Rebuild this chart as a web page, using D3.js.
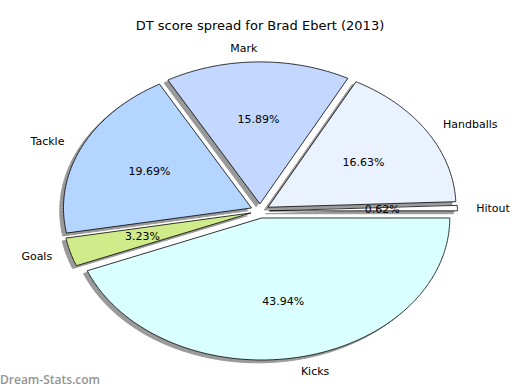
<!DOCTYPE html>
<html>
<head>
<meta charset="utf-8">
<script src="https://cdn.jsdelivr.net/npm/d3@7"></script>
<style>
body { margin: 0; background: #fff; }
text { font-family: "DejaVu Sans", sans-serif; }
</style>
</head>
<body>
<div id="chart"></div>
<script>
// pie data, matplotlib order (counter-clockwise from 3 o'clock)
var categories = ["Hitout", "Handballs", "Mark", "Tackle", "Goals", "Kicks"];
var percents = [0.62, 16.63, 15.89, 19.69, 3.23, 43.94];
var colours = ["#ffffff", "#eaf1ff", "#c4d8ff", "#b3d5ff", "#cfeb8a", "#d9ffff"];

var svgWidth = 520, svgHeight = 390;
var cx = 260, cy = 211, rx = 188, ry = 142;
var explode = 0.05;

var svg = d3.select("#chart").append("svg")
    .attr("width", svgWidth).attr("height", svgHeight);

// unit circle -> ellipse on screen
var x = d3.scaleLinear().domain([-1, 1]).range([cx - rx, cx + rx]);
var y = d3.scaleLinear().domain([-1, 1]).range([cy + ry, cy - ry]);

var total = d3.sum(percents);
var slices = [];
var start = 0;
for (var i = 0; i < percents.length; i++) {
    var a1 = start, a2 = start + 2 * Math.PI * percents[i] / total;
    var mid = (a1 + a2) / 2;
    slices.push({name: categories[i], value: percents[i], colour: colours[i],
        a1: a1, a2: a2, mid: mid,
        ox: explode * Math.cos(mid), oy: explode * Math.sin(mid)});
    start = a2;
}

var line = d3.line().x(function(d) { return x(d[0]); }).y(function(d) { return y(d[1]); });

function wedgePoints(s, dx, dy) {
    var pts = [[s.ox + dx, s.oy + dy]];
    var n = Math.max(2, Math.ceil((s.a2 - s.a1) / 0.01));
    for (var k = 0; k <= n; k++) {
        var t = s.a1 + (s.a2 - s.a1) * k / n;
        pts.push([s.ox + dx + Math.cos(t), s.oy + dy + Math.sin(t)]);
    }
    return pts;
}

// shadows first, behind every wedge
svg.selectAll("path.shadow").data(slices).enter().append("path")
    .attr("class", "shadow")
    .attr("d", function(d) { return line(wedgePoints(d, -0.02, -0.02)) + "Z"; })
    .attr("fill", "#9a9a9a")
    .attr("stroke", "#9a9a9a")
    .attr("stroke-width", 1);

svg.selectAll("path.wedge").data(slices).enter().append("path")
    .attr("class", "wedge")
    .attr("d", function(d) { return line(wedgePoints(d, 0, 0)) + "Z"; })
    .attr("fill", function(d) { return d.colour; })
    .attr("stroke", "black")
    .attr("stroke-width", 0.8)
    .attr("stroke-linejoin", "miter");

// category labels at 1.1 r
svg.selectAll("text.label").data(slices).enter().append("text")
    .attr("class", "label")
    .attr("x", function(d) { return x(d.ox + 1.1 * Math.cos(d.mid)); })
    .attr("y", function(d) { return y(d.oy + 1.1 * Math.sin(d.mid)); })
    .attr("dy", ".35em")
    .attr("text-anchor", function(d) { return Math.cos(d.mid) > 0 ? "start" : "end"; })
    .attr("font-size", "11px")
    .text(function(d) { return d.name; });

// percentages at 0.6 r
svg.selectAll("text.pct").data(slices).enter().append("text")
    .attr("class", "pct")
    .attr("x", function(d) { return x(d.ox + 0.6 * Math.cos(d.mid)); })
    .attr("y", function(d) { return y(d.oy + 0.6 * Math.sin(d.mid)); })
    .attr("dy", ".35em")
    .attr("text-anchor", "middle")
    .attr("font-size", "11px")
    .text(function(d) { return d.value.toFixed(2) + "%"; });

svg.append("text")
    .attr("x", svgWidth / 2)
    .attr("y", 25)
    .attr("dy", ".35em")
    .attr("text-anchor", "middle")
    .attr("font-size", "13px")
    .text("DT score spread for Brad Ebert (2013)");

svg.append("text")
    .attr("x", 0)
    .attr("y", 384)
    .attr("font-weight", 600)
    .attr("font-size", "12px")
    .attr("fill", "#939393")
    .style("font-family", "'Open Sans', sans-serif")
    .text("Dream-Stats.com");
</script>
</body>
</html>
